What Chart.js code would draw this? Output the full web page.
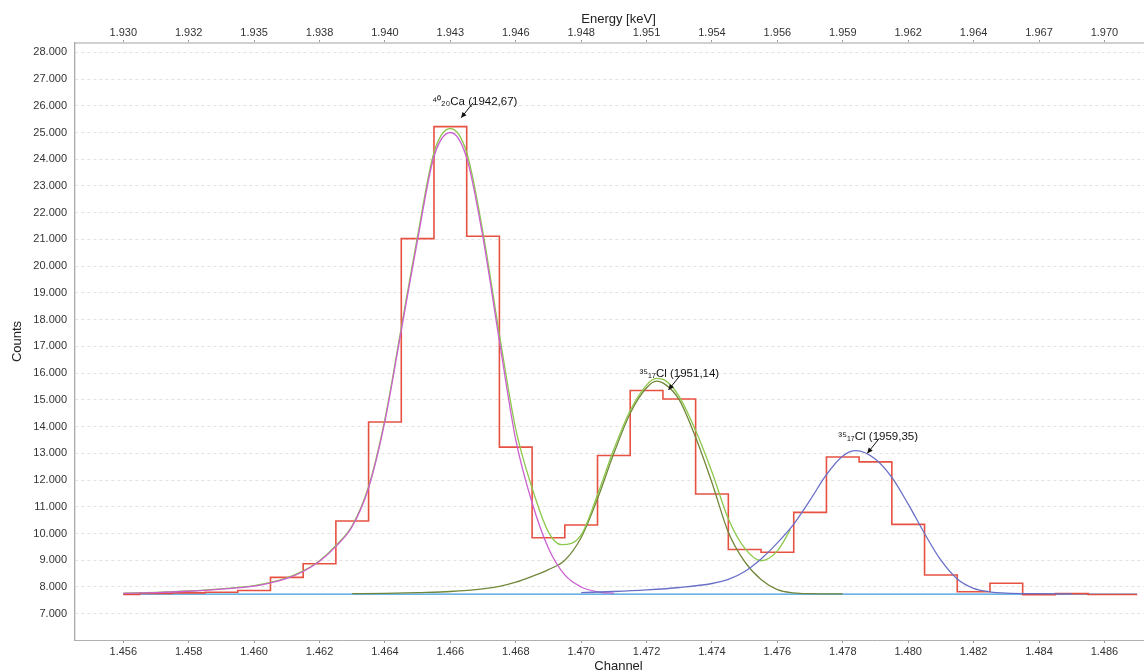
<!DOCTYPE html>
<html>
<head>
<meta charset="utf-8">
<script src="https://cdn.jsdelivr.net/npm/chart.js@4.4.0/dist/chart.umd.min.js"></script>
<style>
  html, body { margin: 0; padding: 0; background: #fff; }
  #wrap { width: 1144px; height: 671px; position: relative; }
</style>
</head>
<body>
<div id="wrap"><canvas id="spectrum"></canvas></div>
<script>
// measured spectrum, one bin per channel
const histChannels = [1456, 1457, 1458, 1459, 1460, 1461, 1462, 1463, 1464, 1465, 1466, 1467, 1468, 1469, 1470, 1471,
  1472, 1473, 1474, 1475, 1476, 1477, 1478, 1479, 1480, 1481, 1482, 1483, 1484, 1485, 1486, 1487];
const histCounts = [7720, 7760, 7780, 7800, 7870, 8360, 8870, 10470, 14170, 21030, 25220, 21120, 13230, 9840, 10320, 12920,
  15350, 15030, 11480, 9400, 9300, 10790, 12860, 12680, 10340, 8450, 7820, 8140, 7710, 7750, 7720, 7720];

// background line
const baseChannels = [1456, 1487];
const baseCounts = [7730, 7730];

// 40Ca peak fit
const caChannels = [1456, 1457, 1458, 1459, 1460, 1460.5, 1461, 1461.5, 1462, 1462.5, 1463, 1463.5, 1464, 1464.5,
  1465, 1465.5, 1466, 1466.5, 1467, 1467.5, 1468, 1468.5, 1469, 1469.5, 1470, 1470.5, 1471];
const caCounts = [7760, 7790, 7840, 7920, 8030, 8150, 8320, 8580, 8960, 9520, 10260, 11700, 14200, 17600,
  21000, 24100, 25000, 24050, 21050, 17200, 13500, 11150, 9450, 8450, 8000, 7820, 7760];

// sum fit Ca + Cl(1951)
const sumChannels = [1456, 1457, 1458, 1459, 1460, 1460.5, 1461, 1461.5, 1462, 1462.5, 1463, 1463.5, 1464, 1464.5,
  1465, 1465.5, 1466, 1466.5, 1467, 1467.5, 1468, 1468.5, 1469, 1469.4, 1470, 1470.5, 1471, 1471.5, 1472, 1472.3,
  1472.6, 1473, 1473.5, 1474, 1474.5, 1475, 1475.5, 1476, 1476.4];
const sumCounts = [7770, 7800, 7850, 7930, 8050, 8170, 8340, 8600, 8980, 9550, 10300, 11760, 14280, 17700,
  21150, 24250, 25150, 24250, 21250, 17450, 13900, 11700, 10050, 9580, 9950, 11450, 13150, 14600, 15550, 15800,
  15700, 15120, 13850, 12300, 10550, 9450, 8980, 9350, 10150];

// 35Cl (1951) peak fit
const cl1Channels = [1463, 1464, 1465, 1466, 1467, 1467.5, 1468, 1468.5, 1469, 1469.5, 1470, 1470.5, 1471, 1471.5,
  1472, 1472.3, 1472.6, 1473, 1473.5, 1474, 1474.5, 1475, 1475.5, 1476, 1476.5, 1477, 1478];
const cl1Counts = [7750, 7760, 7790, 7830, 7930, 8020, 8180, 8400, 8650, 9000, 9850, 11300, 13000, 14500,
  15450, 15700, 15550, 15000, 13600, 11900, 10050, 8950, 8280, 7900, 7780, 7750, 7740];

// 35Cl (1959) peak fit
const cl2Channels = [1470, 1471, 1472, 1473, 1474, 1474.5, 1475, 1475.5, 1476, 1476.5, 1477, 1477.5, 1478, 1478.4,
  1479, 1479.5, 1480, 1480.5, 1481, 1481.5, 1482, 1482.5, 1483, 1484, 1485];
const cl2Counts = [7790, 7830, 7890, 7980, 8130, 8280, 8580, 9050, 9650, 10350, 11250, 12200, 12900, 13100,
  12780, 12100, 11100, 10000, 9000, 8300, 7950, 7820, 7770, 7750, 7740];

// axis ticks
const countTicks = [7000, 8000, 9000, 10000, 11000, 12000, 13000, 14000, 15000, 16000, 17000, 18000, 19000,
  20000, 21000, 22000, 23000, 24000, 25000, 26000, 27000, 28000];
const channelTicks = [1456, 1458, 1460, 1462, 1464, 1466, 1468, 1470, 1472, 1474, 1476, 1478, 1480, 1482, 1484, 1486];

// peak labels and where their arrows point
const peakLabels = ['⁴⁰₂₀Ca (1942,67)', '³⁵₁₇Cl (1951,14)', '³⁵₁₇Cl (1959,35)'];
const peakChannels = [1466.33, 1472.67, 1478.75];
const peakCounts = [25550, 15370, 13000];

const FONT = '"Liberation Sans", Arial, sans-serif';

// 1.456 style thousands separator
function dotted(v) {
  return String(Math.round(v)).replace(/\B(?=(\d{3})+(?!\d))/g, '.');
}
// channel -> energy (keV), shown truncated like the original
function channelToEnergy(ch) {
  return Math.floor(1930 + (Math.round(ch) - 1456) * 4 / 3);
}

function curve(label, xs, ys, color, width) {
  return {
    label,
    data: xs.map((c, i) => ({ x: c, y: ys[i] })),
    borderColor: color,
    borderWidth: width,
    pointRadius: 0,
    fill: false,
    cubicInterpolationMode: 'monotone'
  };
}

const histSet = curve('Spectrum', histChannels, histCounts, 'rgba(230,72,56,0.95)', 1.6);
histSet.stepped = 'middle';

const peakNotes = {
  id: 'peakNotes',
  afterDatasetsDraw(chart) {
    const { ctx, scales: { x, y } } = chart;
    ctx.save();
    ctx.font = '11.5px ' + FONT;
    ctx.fillStyle = '#111';
    ctx.strokeStyle = '#111';
    ctx.lineWidth = 1;
    ctx.textBaseline = 'middle';
    peakLabels.forEach((label, i) => {
      const px = x.getPixelForValue(peakChannels[i]);
      const py = y.getPixelForValue(peakCounts[i]);
      ctx.fillText(label, px - 29, py - 16);
      const tx = px + 12, ty = py - 15;
      ctx.beginPath();
      ctx.moveTo(tx, ty);
      ctx.lineTo(px, py);
      ctx.stroke();
      const ang = Math.atan2(py - ty, px - tx);
      ctx.beginPath();
      ctx.moveTo(px, py);
      ctx.lineTo(px - 6 * Math.cos(ang - 0.45), py - 6 * Math.sin(ang - 0.45));
      ctx.lineTo(px - 6 * Math.cos(ang + 0.45), py - 6 * Math.sin(ang + 0.45));
      ctx.closePath();
      ctx.fill();
    });
    ctx.restore();
  }
};

const tickFont = { family: FONT, size: 11 };
const titleFont = { family: FONT, size: 13 };
const setTicks = list => scale => { scale.ticks = list.map(v => ({ value: v })); };

new Chart(document.getElementById('spectrum'), {
  type: 'line',
  data: {
    datasets: [
      curve('Cl 1959', cl2Channels, cl2Counts, '#6a70c8', 1.3),
      curve('Ca', caChannels, caCounts, '#cc5fd0', 1.3),
      curve('Sum', sumChannels, sumCounts, '#8cc84b', 1.3),
      curve('Cl 1951', cl1Channels, cl1Counts, '#71873a', 1.3),
      histSet,
      curve('Background', baseChannels, baseCounts, '#3a9bdc', 1.3)
    ]
  },
  options: {
    responsive: true,
    maintainAspectRatio: false,
    animation: false,
    layout: { padding: 0 },
    plugins: { legend: { display: false }, tooltip: { enabled: false } },
    scales: {
      x: {
        type: 'linear',
        position: 'bottom',
        min: 1454.523,
        max: 1487.21,
        afterFit: s => { s.height = 31; },
        afterBuildTicks: setTicks(channelTicks),
        grid: { drawOnChartArea: false, drawTicks: true, tickLength: 3, color: '#999' },
        border: { display: true, color: '#b0b0b0', width: 1 },
        ticks: { padding: 2, maxRotation: 0, autoSkip: false, color: '#333', font: tickFont,
          callback: v => dotted(v) },
        title: { display: true, text: '     Channel', color: '#222', font: titleFont, padding: { top: 0, bottom: -3 } }
      },
      x2: {
        type: 'linear',
        position: 'top',
        min: 1454.523,
        max: 1487.21,
        afterFit: s => { s.height = 43; },
        afterBuildTicks: setTicks(channelTicks),
        grid: { drawOnChartArea: false, drawTicks: true, tickLength: 3, color: '#999' },
        border: { display: true, color: '#d0d0d0', width: 2 },
        ticks: { padding: 0, maxRotation: 0, autoSkip: false, color: '#333', font: tickFont,
          callback: v => dotted(channelToEnergy(v)) },
        title: { display: true, text: '     Energy [keV]', color: '#222', font: titleFont, padding: { top: 12, bottom: 0 } }
      },
      y: {
        type: 'linear',
        min: 6016,
        max: 28348,
        afterFit: s => { s.width = 75; },
        afterBuildTicks: setTicks(countTicks),
        grid: { color: '#e2e2e2', lineWidth: 1, drawTicks: false },
        border: { display: true, color: '#aaa', width: 1.3, dash: [3, 3] },
        ticks: { padding: 8, autoSkip: false, color: '#333', font: tickFont,
          callback: v => dotted(v) },
        title: { display: true, text: 'Counts', color: '#222', font: titleFont, padding: { top: 10, bottom: 0 } }
      }
    }
  },
  plugins: [peakNotes]
});
</script>
</body>
</html>
